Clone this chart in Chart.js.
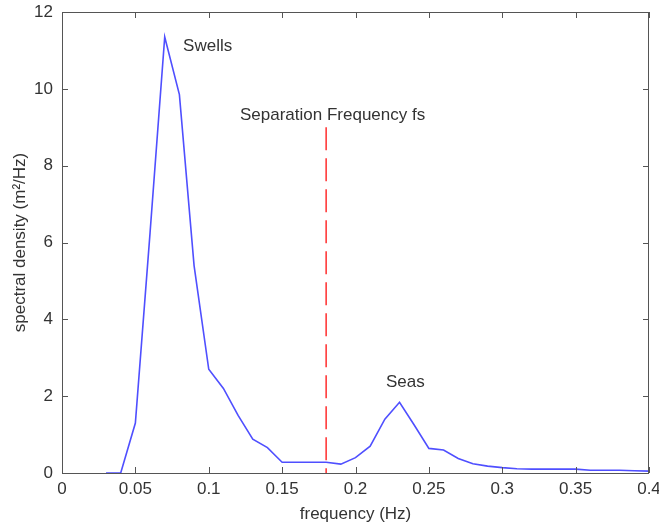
<!DOCTYPE html>
<html>
<head>
<meta charset="utf-8">
<script src="https://cdn.jsdelivr.net/npm/chart.js@4"></script>
<style>
  html, body { margin: 0; padding: 0; background: #fff; }
  #wrap { width: 659px; height: 525px; position: relative; }
</style>
</head>
<body>
<div id="wrap"><canvas id="spectrum"></canvas></div>
<script>
// frequency (Hz) and spectral density (m^2/Hz)
var freqs = [0.03, 0.04, 0.05, 0.06, 0.07, 0.08, 0.09, 0.10, 0.11, 0.12, 0.13, 0.14, 0.15,
             0.16, 0.17, 0.18, 0.19, 0.20, 0.21, 0.22, 0.23, 0.24, 0.25, 0.26, 0.27, 0.28,
             0.29, 0.30, 0.31, 0.32, 0.33, 0.34, 0.35, 0.36, 0.37, 0.38, 0.39, 0.40]
var density = [0.0, 0.0, 1.3, 6.25, 11.35, 9.85, 5.4, 2.7, 2.2, 1.5, 0.88, 0.66, 0.28,
               0.28, 0.28, 0.28, 0.23, 0.4, 0.7, 1.4, 1.84, 1.25, 0.64, 0.6, 0.38, 0.24,
               0.18, 0.14, 0.11, 0.1, 0.1, 0.1, 0.1, 0.07, 0.07, 0.07, 0.06, 0.05]

// separation frequency marker (drawn top -> bottom so the dash starts at the top)
var sepFreq = [0.18, 0.18]
var sepLevel = [9.0, 0]

var xTicks = [0, 0.05, 0.1, 0.15, 0.2, 0.25, 0.3, 0.35, 0.4]
var yTicks = [0, 2, 4, 6, 8, 10, 12]

// text labels placed in data units
var labelText = ['Swells', 'Separation Frequency fs', 'Seas']
var labelX = [0.0825, 0.1213, 0.2208]
var labelY = [11.1, 9.3, 2.35]

var textColor = '#333'
var fontFamily = "'Liberation Sans', Arial, sans-serif"

// MATLAB style box with inward ticks + text labels
var boxPlugin = {
    id: 'boxPlugin',
    afterDatasetsDraw: function (chart) {
        var ctx = chart.ctx
        var a = chart.chartArea
        var xs = chart.scales.x
        var ys = chart.scales.y
        ctx.save()
        ctx.strokeStyle = '#555'
        ctx.lineWidth = 1
        ctx.strokeRect(a.left + 0.5, a.top + 0.5, a.right - a.left - 1, a.bottom - a.top)
        ctx.beginPath()
        for (var i = 0; i < xTicks.length; i++) {
            var px = Math.round(xs.getPixelForValue(xTicks[i])) + 0.5
            ctx.moveTo(px, a.bottom); ctx.lineTo(px, a.bottom - 6)
            ctx.moveTo(px, a.top); ctx.lineTo(px, a.top + 6)
        }
        for (var j = 0; j < yTicks.length; j++) {
            var py = Math.round(ys.getPixelForValue(yTicks[j])) + 0.5
            ctx.moveTo(a.left, py); ctx.lineTo(a.left + 6, py)
            ctx.moveTo(a.right, py); ctx.lineTo(a.right - 6, py)
        }
        ctx.stroke()

        ctx.fillStyle = textColor
        ctx.font = '17px ' + fontFamily
        ctx.textAlign = 'left'
        ctx.textBaseline = 'middle'
        for (var k = 0; k < labelText.length; k++) {
            ctx.fillText(labelText[k], xs.getPixelForValue(labelX[k]), ys.getPixelForValue(labelY[k]))
        }
        ctx.restore()
    }
}

var points = []
for (var i = 0; i < freqs.length; i++) {
    points.push({x: freqs[i], y: density[i]})
}
var sepPoints = []
for (var i = 0; i < sepFreq.length; i++) {
    sepPoints.push({x: sepFreq[i], y: sepLevel[i]})
}

var ctxSpec = document.getElementById('spectrum').getContext('2d')
var specChart = new Chart(ctxSpec, {
    type: 'line',
    data: {
        datasets: [{
            label: 'spectrum',
            data: points,
            borderColor: '#4f4fff',
            borderWidth: 1.6,
            pointRadius: 0,
            tension: 0,
            fill: false,
        }, {
            label: 'separation',
            data: sepPoints,
            borderColor: '#ff3b3b',
            borderWidth: 1.6,
            borderDash: [23, 8],
            pointRadius: 0,
            fill: false,
        }]
    },
    options: {
        responsive: true,
        maintainAspectRatio: false,
        animation: false,
        devicePixelRatio: 1,
        layout: {padding: {top: 12, right: 10, left: 0, bottom: 0}},
        plugins: {
            legend: {display: false},
            tooltip: {enabled: false},
        },
        scales: {
            x: {
                type: 'linear',
                min: 0,
                max: 0.4,
                afterFit: function (scale) {
                    scale.height = 52
                    scale.paddingLeft = 0
                    scale.paddingRight = 0
                },
                afterBuildTicks: function (scale) {
                    scale.ticks = xTicks.map(function (v) { return {value: v} })
                },
                grid: {display: false, drawTicks: false},
                border: {display: false},
                ticks: {
                    color: textColor,
                    padding: 6,
                    maxRotation: 0,
                    autoSkip: false,
                    font: {family: fontFamily, size: 17},
                    callback: function (v) { return String(Math.round(v * 100) / 100) }
                },
                title: {
                    display: true,
                    text: 'frequency (Hz)',
                    color: textColor,
                    padding: {top: 2, bottom: 0},
                    font: {family: fontFamily, size: 17}
                }
            },
            y: {
                type: 'linear',
                min: 0,
                max: 12,
                afterFit: function (scale) {
                    scale.width = 62
                    scale.paddingTop = 0
                    scale.paddingBottom = 0
                },
                afterBuildTicks: function (scale) {
                    scale.ticks = yTicks.map(function (v) { return {value: v} })
                },
                grid: {display: false, drawTicks: false},
                border: {display: false},
                ticks: {
                    color: textColor,
                    padding: 9,
                    autoSkip: false,
                    font: {family: fontFamily, size: 17}
                },
                title: {
                    display: true,
                    text: 'spectral density (m²/Hz)',
                    color: textColor,
                    padding: {top: 10, bottom: 0},
                    font: {family: fontFamily, size: 17}
                }
            }
        }
    },
    plugins: [boxPlugin]
})
</script>
</body>
</html>
